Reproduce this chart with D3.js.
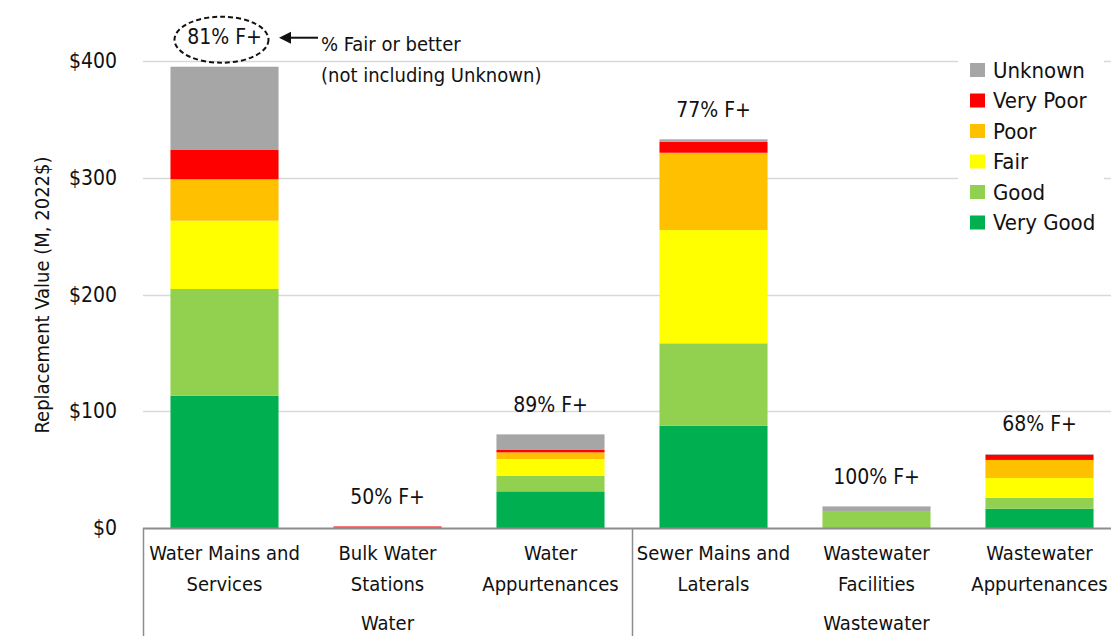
<!DOCTYPE html>
<html>
<head>
<meta charset="utf-8">
<script src="https://cdn.jsdelivr.net/npm/d3@7/dist/d3.min.js"></script>
<style>
  html, body { margin: 0; padding: 0; background: #fff; }
  svg { display: block; }
  text { font-family: "Liberation Sans Narrow", "DejaVu Sans Condensed", "Roboto", sans-serif; fill: #111; }
</style>
</head>
<body>
<svg id="chart" width="1111" height="636"></svg>
<script>
// ---- data ----
const categories = ["Water Mains and Services", "Bulk Water Stations", "Water Appurtenances",
                    "Sewer Mains and Laterals", "Wastewater Facilities", "Wastewater Appurtenances"];
const categoryLines = [["Water Mains and", "Services"], ["Bulk Water", "Stations"], ["Water", "Appurtenances"],
                       ["Sewer Mains and", "Laterals"], ["Wastewater", "Facilities"], ["Wastewater", "Appurtenances"]];
const groups = ["Water", "Water", "Water", "Wastewater", "Wastewater", "Wastewater"];
const seriesNames = ["Very Good", "Good", "Fair", "Poor", "Very Poor", "Unknown"];
const veryGood = [113.3, 0.0, 31.4, 87.6, 0.0, 16.5];
const good     = [91.4, 0.0, 13.4, 70.6, 14.5, 9.4];
const fair     = [58.5, 0.3, 14.3, 97.0, 0.0, 16.9];
const poor     = [35.5, 0.0, 5.7, 66.2, 0.0, 15.5];
const veryPoor = [25.1, 1.0, 2.0, 9.4, 0.0, 4.5];
const unknown  = [71.3, 0.0, 13.4, 2.1, 4.0, 0.5];
const pctLabels = ["81% F+", "50% F+", "89% F+", "77% F+", "100% F+", "68% F+"];
const yTicks = [0, 100, 200, 300, 400];
const colors = ["#00b050", "#92d050", "#ffff00", "#ffc000", "#ff0000", "#a6a6a6"];

const seriesValues = [veryGood, good, fair, poor, veryPoor, unknown];
const rows = categories.map((c, i) => {
  const r = { cat: c };
  seriesNames.forEach((s, j) => r[s] = seriesValues[j][i]);
  return r;
});

const svg = d3.select("#chart");
const x = d3.scaleBand().domain(categories).range([143, 1121]).paddingInner(0.337).paddingOuter(0.1685);
const y = d3.scaleLinear().domain([0, 400]).range([528, 61]);

// gridlines
svg.append("g").selectAll("line").data(yTicks.filter(d => d > 0)).join("line")
  .attr("x1", 143).attr("x2", 1111)
  .attr("y1", d => Math.round(y(d)) + 0.5).attr("y2", d => Math.round(y(d)) + 0.5)
  .attr("stroke", "#d9d9d9").attr("stroke-width", 1.3);

// y axis labels
const yAxis = d3.axisLeft(y).tickValues(yTicks).tickFormat(d => "$" + d).tickSize(0).tickPadding(26);
const ya = svg.append("g").attr("transform", "translate(143,0)").call(yAxis);
ya.select(".domain").remove();
ya.selectAll("text").style("font-size", "21px").attr("font-family", null).style("font-family", "'Liberation Sans Narrow', 'DejaVu Sans Condensed', sans-serif").attr("fill", "#111");

// y title
svg.append("text").attr("transform", "translate(49,295) rotate(-90)")
  .attr("text-anchor", "middle").style("font-size", "20px").text("Replacement Value (M, 2022$)");

// stacked bars
const stack = d3.stack().keys(seriesNames)(rows);
svg.append("g").selectAll("g").data(stack).join("g")
  .attr("fill", (d, i) => colors[i])
  .selectAll("rect").data(d => d).join("rect")
  .attr("x", d => x(d.data.cat))
  .attr("width", x.bandwidth())
  .attr("y", d => y(d[1]))
  .attr("height", d => Math.max(0, y(d[0]) - y(d[1])));

// percent labels
const totals = rows.map(r => d3.sum(seriesNames, s => r[s]));
svg.append("g").selectAll("text").data(categories).join("text")
  .attr("x", d => x(d) + x.bandwidth() / 2)
  .attr("y", (d, i) => y(totals[i]) - 30)
  .attr("dy", "0.35em")
  .attr("text-anchor", "middle").style("font-size", "21px")
  .text((d, i) => pctLabels[i]);

// annotation ellipse + arrow
const c0 = x(categories[0]) + x.bandwidth() / 2;
const ly0 = y(totals[0]) - 30;
svg.append("ellipse").attr("cx", c0 - 3).attr("cy", ly0 + 3).attr("rx", 47).attr("ry", 23)
  .attr("fill", "none").attr("stroke", "#111").attr("stroke-width", 2).attr("stroke-dasharray", "5,3");
svg.append("path")
  .attr("d", `M279,${ly0 + 1} L291,${ly0 - 5} L291,${ly0 + 7} Z`).attr("fill", "#111");
svg.append("line").attr("x1", 318).attr("x2", 288).attr("y1", ly0 + 1).attr("y2", ly0 + 1)
  .attr("stroke", "#111").attr("stroke-width", 2);
svg.append("text").attr("x", 321).attr("y", 51).style("font-size", "20px").text("% Fair or better");
svg.append("text").attr("x", 321).attr("y", 82).style("font-size", "20px").text("(not including Unknown)");

// baseline
svg.append("line").attr("x1", 143).attr("x2", 1111).attr("y1", 528.5).attr("y2", 528.5)
  .attr("stroke", "#8c8c8c").attr("stroke-width", 2);

// category labels
const xl = svg.append("g");
categories.forEach((c, i) => {
  const t = xl.append("text").attr("x", x(c) + x.bandwidth() / 2).attr("y", 560)
    .attr("text-anchor", "middle").style("font-size", "20px");
  categoryLines[i].forEach((ln, k) => t.append("tspan").attr("x", x(c) + x.bandwidth() / 2).attr("dy", k === 0 ? 0 : 31).text(ln));
});
// group separators and labels
const groupNames = Array.from(new Set(groups));
groupNames.forEach(g => {
  const cats = categories.filter((c, i) => groups[i] === g);
  const x0 = x(cats[0]) - x.step() * x.paddingInner() / 2;
  const x1 = x(cats[cats.length - 1]) + x.bandwidth() + x.step() * x.paddingInner() / 2;
  svg.append("line").attr("x1", Math.round(x0) + 0.5).attr("x2", Math.round(x0) + 0.5).attr("y1", 528).attr("y2", 636)
    .attr("stroke", "#8c8c8c").attr("stroke-width", 1.5);
  svg.append("text").attr("x", (x0 + x1) / 2).attr("y", 630).attr("text-anchor", "middle")
    .style("font-size", "20px").text(g);
});

// legend
const leg = svg.append("g");
leg.append("rect").attr("x", 958).attr("y", 52).attr("width", 146).attr("height", 186).attr("fill", "#fff");
const legOrder = seriesNames.slice().reverse();
legOrder.forEach((s, i) => {
  const yy = 70 + i * 30.5;
  leg.append("rect").attr("x", 970).attr("y", yy - 7).attr("width", 15).attr("height", 14)
    .attr("fill", colors[seriesNames.indexOf(s)]);
  leg.append("text").attr("x", 993).attr("y", yy).attr("dy", "0.35em").style("font-size", "22px").text(s);
});
</script>
</body>
</html>
